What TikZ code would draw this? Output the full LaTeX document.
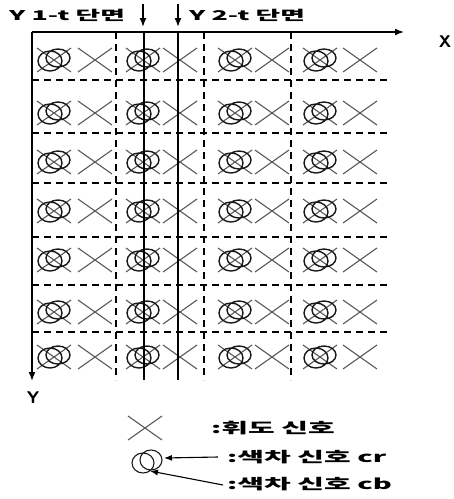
\documentclass[tikz,border=0pt]{standalone}
\usepackage{fontspec}
\newfontfamily\kr[FakeStretch=2.0]{Noto Sans CJK KR}
\usetikzlibrary{arrows.meta}
\tikzset{
  xline/.style={draw=black!65, line width=1.1pt},
  oline/.style={draw=black!90, line width=1.4pt},
  dashline/.style={draw=black, line width=1.2pt, dash pattern=on 7pt off 5pt},
  solidline/.style={draw=black, line width=1.5pt},
  axis/.style={draw=black, line width=1.5pt, -{Latex[length=9pt,width=7pt]}},
  ptr/.style={draw=black, line width=1.1pt, -{Latex[length=8pt,width=6pt]}},
  krlab/.style={font=\kr\bfseries\fontsize{14.5}{16}\selectfont, inner sep=0pt, anchor=west},
  toplab/.style={krlab, font=\kr\bfseries\fontsize{13.4}{15}\selectfont},
  axlab/.style={font=\sffamily\bfseries\fontsize{17}{18}\selectfont, inner sep=0pt},
  xmark/.pic={\draw[xline] (-17,-12) -- (17,12) (-17,12) -- (17,-12);},
  omark/.pic={\draw[xline] (-17,-12) -- (17,12) (-17,12) -- (17,-12);
              \draw[oline] (-4,1) ellipse [x radius=12, y radius=10]
                           (4,-2) ellipse [x radius=12, y radius=9];}
}
\begin{document}
\begin{tikzpicture}[x=1pt,y=-1pt]
\useasboundingbox (0,0) rectangle (454,499);
% cell symbols
\foreach \r in {60,113,162,211,260,312,357} {
  \foreach \c/\d in {54/95,143/180,235/272,320/360} {
    \pic at (\c,\r) {omark};
    \pic at (\d,\r) {xmark};
  }
}
% dashed grid
\foreach \y in {80,133,183,237,285,332} {
  \draw[dashline] (32,\y) -- (388,\y);
}
\foreach \x in {116,204,291} {
  \draw[dashline] (\x,32) -- (\x,380);
}
% solid section lines
\coordinate (s1t) at (144,32);
\coordinate (s1b) at (144,380);
\coordinate (s2t) at (178,32);
\coordinate (s2b) at (178,380);
\draw[solidline] (s1t) -- (s1b);
\draw[solidline] (s2t) -- (s2b);
% axes
\coordinate (O) at (32,32);
\coordinate (xend) at (404,32);
\coordinate (yend) at (32,381);
\draw[axis] (O) -- (xend);
\draw[axis] (O) -- (yend);
\node[axlab] (xl) at (445,42) {X};
\node[axlab] (yl) at (33,398) {Y};
% top labels
\node[toplab] (l1) at (9,15) {Y 1-t 단면};
\node[toplab] (l2) at (189,15) {Y 2-t 단면};
\coordinate (a1s) at (143,4);
\coordinate (a1e) at (143,27);
\coordinate (a2s) at (178,4);
\coordinate (a2e) at (178,27);
\draw[axis] (a1s) -- (a1e);
\draw[axis] (a2s) -- (a2e);
% legend
\pic at (145,428) {xmark};
\node[krlab] (lum) at (211,428) {:휘도 신호};
\draw[oline, line width=1.1pt] (143,463) ellipse [x radius=11, y radius=10]
                               (151,460) ellipse [x radius=11, y radius=10];
\node[krlab] (cr) at (227,457) {:색차 신호 cr};
\node[krlab] (cb) at (227,484) {:색차 신호 cb};
\coordinate (crtip) at (164,458);
\coordinate (cbtip) at (150,471);
\draw[ptr] ([xshift=-9pt]cr.west) -- (crtip);
\draw[ptr] ([xshift=-4pt,yshift=-1pt]cb.west) -- (cbtip);
\end{tikzpicture}
\end{document}
